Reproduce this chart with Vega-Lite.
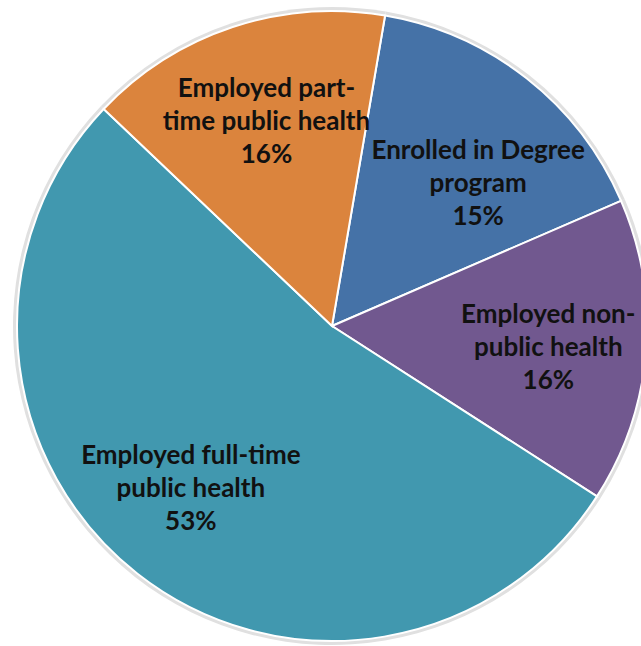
{
  "$schema": "https://vega.github.io/schema/vega-lite/v6.json",
  "width": 618,
  "height": 640,
  "autosize": {"type": "none"},
  "padding": {"left": 23, "top": 6, "right": 0, "bottom": 0},
  "background": "white",
  "view": {"stroke": null},
  "data": {
    "values": [
      {"category": "Enrolled in Degree program", "value": 15.8, "label": "Enrolled in Degree\nprogram\n15%", "rank": 1},
      {"category": "Employed non-public health", "value": 15.6, "label": "Employed non-\npublic health\n16%", "rank": 2},
      {"category": "Employed full-time public health", "value": 53.0, "label": "Employed full-time\npublic health\n53%", "rank": 3},
      {"category": "Employed part-time public health", "value": 15.6, "label": "Employed part-\ntime public health\n16%", "rank": 4}
    ]
  },
  "encoding": {
    "theta": {"field": "value", "type": "quantitative", "stack": true, "scale": {"range": [0.1693, 6.4525]}},
    "order": {"field": "rank", "type": "quantitative"}
  },
  "layer": [
    {
      "mark": {"type": "arc", "radius": 319, "fill": "#e0e0e0", "stroke": null},
      "encoding": {}
    },
    {
      "mark": {"type": "arc", "radius": 315, "stroke": "white", "strokeWidth": 2},
      "encoding": {
        "color": {
          "field": "category",
          "type": "nominal",
          "scale": {
            "domain": ["Enrolled in Degree program", "Employed non-public health", "Employed full-time public health", "Employed part-time public health"],
            "range": ["#4572A7", "#71588F", "#4198AF", "#DB843D"]
          },
          "legend": null
        }
      }
    },
    {
      "mark": {"type": "text", "radius": 214, "dx": {"expr": "datum.rank == 1 ? 14 : (datum.rank == 3 ? -9 : (datum.rank == 2 ? 3 : 2))"}, "dy": {"expr": "datum.rank == 1 ? -7 : (datum.rank == 3 ? -38 : (datum.rank == 2 ? -28 : -34))"}, "font": "Lato", "fontWeight": "bold", "fontSize": 26, "lineHeight": 33, "lineBreak": "\n", "align": "center", "baseline": "middle", "fill": "#111111"},
      "encoding": {"text": {"field": "label"}}
    }
  ]
}
